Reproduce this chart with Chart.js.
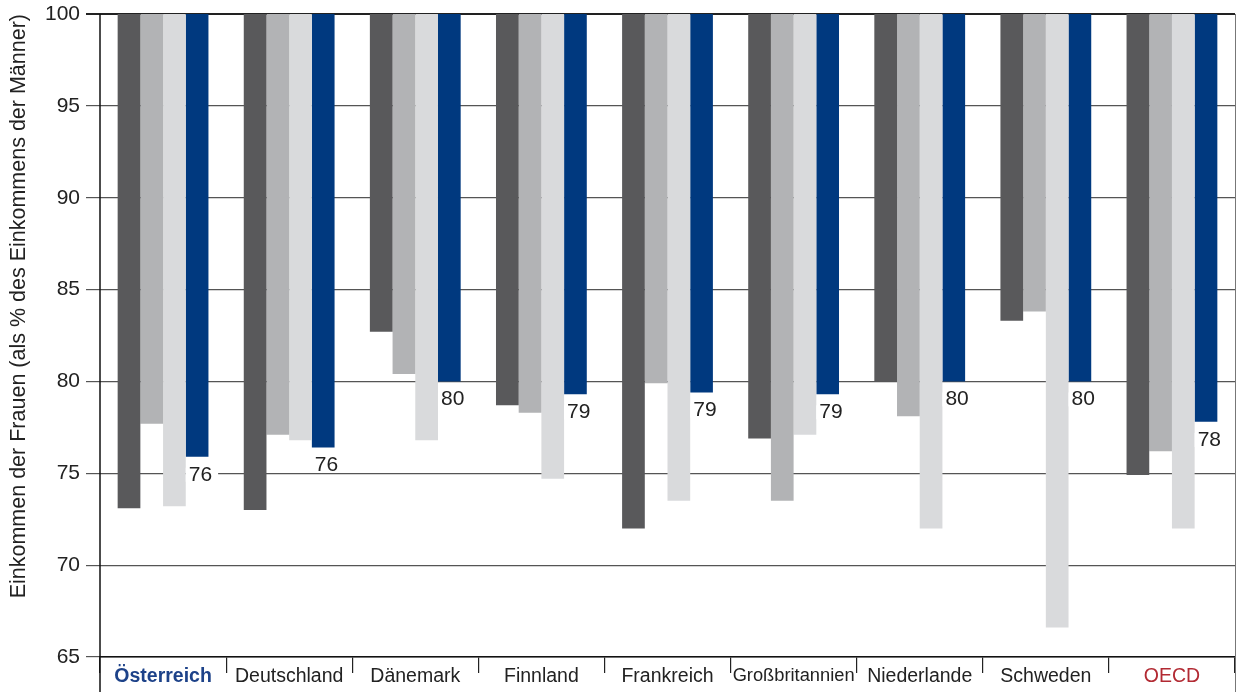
<!DOCTYPE html>
<html>
<head>
<meta charset="utf-8">
<script src="https://cdn.jsdelivr.net/npm/chart.js@4"></script>
<style>
  html, body { margin: 0; padding: 0; background: #fff; }
  #wrap { width: 1237px; height: 692px; }
</style>
</head>
<body>
<div id="wrap"><canvas id="chart" width="1237" height="692"></canvas></div>
<script>
// Data
const countries = ['Österreich', 'Deutschland', 'Dänemark', 'Finnland', 'Frankreich',
                   'Großbritannien', 'Niederlande', 'Schweden', 'OECD'];
const seriesDark  = [73.1, 73.0, 82.7, 78.7, 72.0, 76.9, 80.0, 83.3, 74.9];
const seriesMid   = [77.7, 77.1, 80.4, 78.3, 79.9, 73.5, 78.1, 83.8, 76.2];
const seriesLight = [73.2, 76.8, 76.8, 74.7, 73.5, 77.1, 72.0, 66.6, 72.0];
const seriesBlue  = [75.9, 76.4, 80.0, 79.3, 79.4, 79.3, 80.0, 80.0, 77.8];
const yTicks = [65, 70, 75, 80, 85, 90, 95, 100];
const TOP = 100;

const FONT = '"Liberation Sans", Arial, sans-serif';
const TEXT = '#222';

// bars hang from 100 down to the value
const floating = arr => arr.map(v => [v, TOP]);

// value labels under the blue bars (white box behind)
const blueLabels = {
  id: 'blueLabels',
  afterDatasetsDraw(chart) {
    const { ctx } = chart;
    const meta = chart.getDatasetMeta(3);
    ctx.save();
    ctx.font = `21px ${FONT}`;
    ctx.textBaseline = 'middle';
    ctx.textAlign = 'left';
    meta.data.forEach((bar, i) => {
      const txt = String(Math.round(seriesBlue[i]));
      const bottom = Math.max(bar.y, bar.base);
      const x = bar.x - bar.width / 2 + 3;
      const y = bottom + 18;
      const w = ctx.measureText(txt).width;
      ctx.fillStyle = '#fff';
      ctx.fillRect(x - 3, y - 7, w + 9, 14);
      ctx.fillStyle = TEXT;
      ctx.fillText(txt, x, y);
    });
    ctx.restore();
  }
};

// frame: side lines running down past the axis, like the original
const frame = {
  id: 'frame',
  afterDraw(chart) {
    const { ctx, chartArea: a, height } = chart;
    ctx.save();
    ctx.strokeStyle = '#111';
    ctx.lineWidth = 1.5;
    ctx.beginPath();
    ctx.moveTo(a.left, a.top);
    ctx.lineTo(a.left, height);
    ctx.stroke();
    ctx.strokeStyle = '#777';
    ctx.lineWidth = 1;
    ctx.beginPath();
    ctx.moveTo(a.right + 0.5, a.top);
    ctx.lineTo(a.right + 0.5, height);
    ctx.stroke();
    ctx.restore();
  }
};

new Chart(document.getElementById('chart').getContext('2d'), {
  type: 'bar',
  data: {
    labels: countries,
    datasets: [
      { data: floating(seriesDark),  backgroundColor: '#59595b' },
      { data: floating(seriesMid),   backgroundColor: '#b2b3b5' },
      { data: floating(seriesLight), backgroundColor: '#d9dadc' },
      { data: floating(seriesBlue),  backgroundColor: '#00397f' },
    ]
  },
  options: {
    responsive: false,
    animation: false,
    layout: { padding: { top: 14, right: 2, left: 0, bottom: 0 } },
    datasets: { bar: { categoryPercentage: 0.72, barPercentage: 1.0, borderWidth: 0, borderSkipped: false } },
    plugins: {
      legend: { display: false },
      tooltip: { enabled: false }
    },
    scales: {
      x: {
        offset: true,
        afterFit: s => { s.height = 35; },
        border: { display: true, color: '#111', width: 1.5 },
        grid: { offset: true, drawOnChartArea: false, drawTicks: true, tickLength: 16, color: '#222', lineWidth: 1.2 },
        ticks: {
          autoSkip: false,
          maxRotation: 0,
          padding: -8,
          color: c => c.index === 0 ? '#1d4289' : (c.index === 8 ? '#b22a33' : TEXT),
          font: c => ({
            family: FONT,
            size: c.index === 5 ? 18.3 : 19.5,
            weight: c.index === 0 ? 'bold' : 'normal'
          })
        }
      },
      y: {
        min: 65,
        max: 100,
        afterFit: s => { s.width = 100; s.paddingTop = 0; },
        afterBuildTicks: s => { s.ticks = yTicks.map(v => ({ value: v })); },
        border: { display: false },
        grid: {
          drawTicks: true,
          tickLength: 14,
          color: c => c.tick && c.tick.value === TOP ? '#222' : '#555',
          lineWidth: c => c.tick && c.tick.value === TOP ? 2 : 1.2
        },
        ticks: { padding: 6, color: TEXT, font: { family: FONT, size: 21, lineHeight: 0.9 } },
        title: {
          display: true,
          text: 'Einkommen der Frauen (als % des Einkommens der Männer)',
          align: 'end',
          color: TEXT,
          font: { family: FONT, size: 21.5 },
          padding: { top: 6, bottom: 0 }
        }
      }
    }
  },
  plugins: [blueLabels, frame]
});
</script>
</body>
</html>
